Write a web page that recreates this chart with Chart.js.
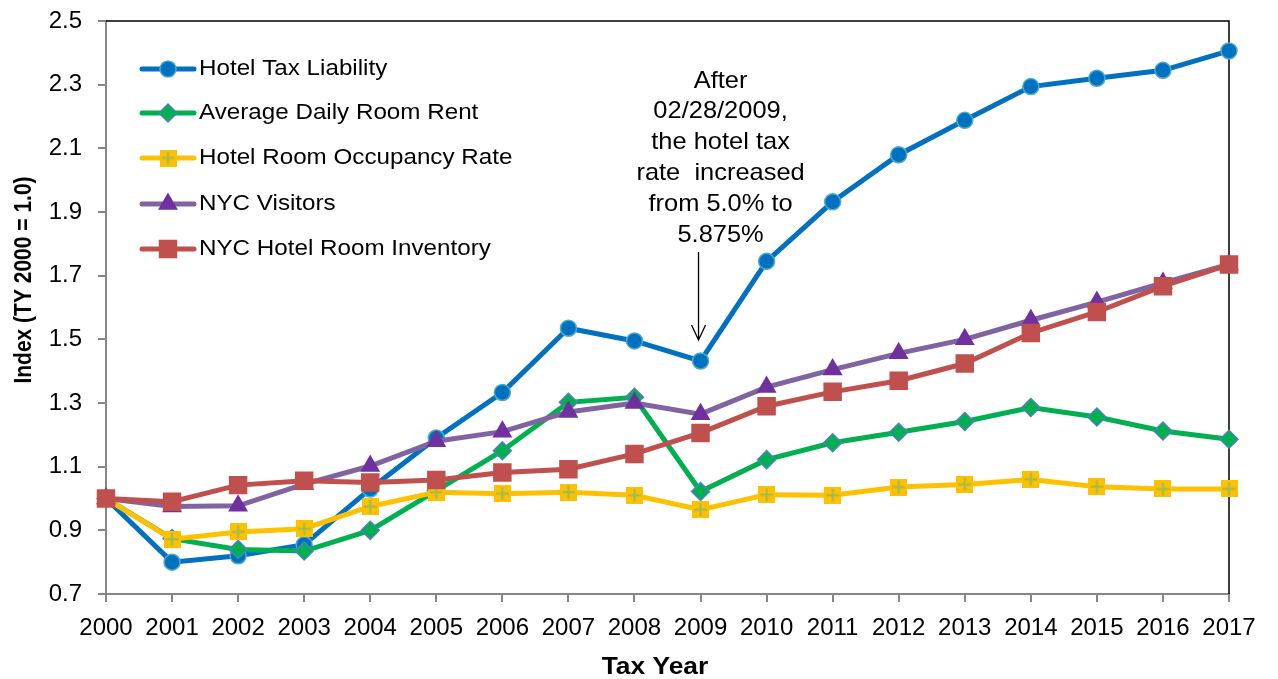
<!DOCTYPE html>
<html>
<head>
<meta charset="utf-8">
<script src="https://cdn.jsdelivr.net/npm/chart.js@4/dist/chart.umd.min.js"></script>
<style>
  html, body { margin: 0; padding: 0; background: #fff; }
  #wrap { width: 1278px; height: 679px; }
</style>
</head>
<body>
<div id="wrap"><canvas id="grafico" width="1278" height="679"></canvas></div>
<script>
// dados (indice, TY 2000 = 1.0)
var anos = ['2000','2001','2002','2003','2004','2005','2006','2007','2008','2009','2010','2011','2012','2013','2014','2015','2016','2017'];
var taxLiability = [1.00, 0.80, 0.82, 0.855, 1.03, 1.19, 1.333, 1.535, 1.495, 1.432, 1.745, 1.932, 2.08, 2.188, 2.294, 2.32, 2.345, 2.406];
var roomRent     = [1.00, 0.874, 0.84, 0.835, 0.90, 1.025, 1.15, 1.302, 1.318, 1.022, 1.122, 1.175, 1.208, 1.242, 1.286, 1.256, 1.212, 1.186];
var occupancy    = [1.00, 0.872, 0.895, 0.905, 0.975, 1.02, 1.015, 1.02, 1.01, 0.965, 1.012, 1.01, 1.036, 1.044, 1.06, 1.037, 1.03, 1.03];
var visitors     = [1.00, 0.975, 0.977, 1.045, 1.102, 1.18, 1.21, 1.272, 1.30, 1.265, 1.35, 1.405, 1.456, 1.50, 1.56, 1.617, 1.677, 1.735];
var inventory    = [1.00, 0.99, 1.042, 1.056, 1.05, 1.058, 1.082, 1.092, 1.14, 1.206, 1.29, 1.335, 1.37, 1.424, 1.52, 1.586, 1.667, 1.735];
var nomes = ['Hotel Tax Liability', 'Average Daily Room Rent', 'Hotel Room Occupancy Rate', 'NYC Visitors', 'NYC Hotel Room Inventory'];
var yTicks = [0.7, 0.9, 1.1, 1.3, 1.5, 1.7, 1.9, 2.1, 2.3, 2.5];
var notaLinhas = ['After', '02/28/2009,', 'the hotel tax', 'rate  increased', 'from 5.0% to', '5.875%'];

var fonte = '"Liberation Sans", Arial, sans-serif';
var cinza = '#868686';

// marcador amarelo: quadrado com cruz
function marcadorCruz(lado) {
  var c = document.createElement('canvas');
  c.width = lado; c.height = lado;
  var g = c.getContext('2d');
  g.fillStyle = '#FFC000';
  g.fillRect(0, 0, lado, lado);
  g.strokeStyle = '#9BBB59';
  g.lineWidth = 2;
  g.beginPath();
  g.moveTo(lado / 2, 2); g.lineTo(lado / 2, lado - 2);
  g.moveTo(2, lado / 2); g.lineTo(lado - 2, lado / 2);
  g.stroke();
  return c;
}
var cruz = marcadorCruz(17);

var estilos = [
  { cor: '#0070C0', fundo: '#0070C0', borda: '#4BACC6', forma: 'circle', raio: 8 },
  { cor: '#00B050', fundo: '#00B050', borda: '#4F81BD', forma: 'rectRot', raio: 9 },
  { cor: '#FFC000', fundo: '#FFC000', borda: '#FFC000', forma: cruz, raio: 9 },
  { cor: '#8064A2', fundo: '#7030A0', borda: '#7030A0', forma: 'triangle', raio: 10 },
  { cor: '#C0504D', fundo: '#C0504D', borda: '#C0504D', forma: 'rect', raio: 12 }
];
var series = [taxLiability, roomRent, occupancy, visitors, inventory];

var datasets = series.map(function (s, i) {
  var e = estilos[i];
  return {
    label: nomes[i],
    data: s,
    borderColor: e.cor,
    borderWidth: 5,
    pointStyle: e.forma,
    pointRadius: e.raio,
    pointHoverRadius: e.raio,
    pointBackgroundColor: e.fundo,
    pointBorderColor: e.borda,
    pointBorderWidth: 1.5,
    tension: 0,
    order: 4 - i
  };
});

// texto um pouco alargado na horizontal, como no original
function textoLargo(g, txt, x, y, fator, alinhar) {
  g.save();
  g.translate(x, y);
  g.scale(fator, 1);
  g.textAlign = alinhar;
  g.fillText(txt, 0, 0);
  g.restore();
}

// legenda desenhada a mao (linha + marcador)
var legendaPlugin = {
  id: 'legendaExcel',
  afterDraw: function (chart) {
    var g = chart.ctx;
    var ys = [69, 113, 158, 204, 249];
    g.save();
    for (var i = 0; i < nomes.length; i++) {
      var e = estilos[i], y = ys[i];
      g.strokeStyle = e.cor;
      g.lineWidth = 5;
      g.lineCap = 'round';
      g.beginPath(); g.moveTo(142, y); g.lineTo(194, y); g.stroke();
      g.fillStyle = e.fundo; g.strokeStyle = e.borda; g.lineWidth = 1.5;
      Chart.helpers.drawPoint(g, { pointStyle: e.forma, radius: e.raio, rotation: 0, borderWidth: 1.5 }, 168, y);
      g.fillStyle = '#000';
      g.font = '22px ' + fonte;
      g.textBaseline = 'middle';
      textoLargo(g, nomes[i], 199, y, 1.1, 'left');
    }
    g.restore();
  }
};

// moldura (topo e direita)
var molduraPlugin = {
  id: 'moldura',
  beforeDatasetsDraw: function (chart) {
    var g = chart.ctx, a = chart.chartArea;
    g.save();
    g.strokeStyle = '#000';
    g.lineWidth = 1.5;
    g.beginPath();
    g.moveTo(a.left, a.top); g.lineTo(a.right, a.top); g.lineTo(a.right, a.bottom);
    g.stroke();
    g.restore();
  }
};

// nota com seta + titulos dos eixos
var notaPlugin = {
  id: 'notaSeta',
  afterDraw: function (chart) {
    var g = chart.ctx;
    var xs = chart.scales.x, ys = chart.scales.y;
    g.save();
    var cx = (xs.getPixelForValue(9) + xs.getPixelForValue(10)) / 2 - 13;
    g.fillStyle = '#000';
    g.font = '24px ' + fonte;
    g.textBaseline = 'middle';
    for (var i = 0; i < notaLinhas.length; i++) {
      textoLargo(g, notaLinhas[i], cx, 81 + i * 30.8, 1.06, 'center');
    }
    var ax = xs.getPixelForValue(9) - 2;
    var y0 = ys.getPixelForValue(1.774), y1 = ys.getPixelForValue(1.498);
    g.strokeStyle = '#000';
    g.lineWidth = 1.3;
    g.beginPath();
    g.moveTo(ax, y0); g.lineTo(ax, y1);
    g.moveTo(ax - 7, y1 - 15); g.lineTo(ax, y1); g.lineTo(ax + 7, y1 - 15);
    g.stroke();

    // titulos
    g.font = 'bold 24px ' + fonte;
    textoLargo(g, 'Tax Year', 655, 667, 1.1, 'center');
    g.save();
    g.translate(25, 280);
    g.rotate(-Math.PI / 2);
    g.scale(1, 1.12);
    g.font = 'bold 21px ' + fonte;
    g.textAlign = 'center';
    g.fillText('Index (TY 2000 = 1.0)', 0, 0);
    g.restore();
    g.restore();
  }
};

var ctx = document.getElementById('grafico');
var grafico = new Chart(ctx, {
  type: 'line',
  data: { labels: anos, datasets: datasets },
  plugins: [molduraPlugin, legendaPlugin, notaPlugin],
  options: {
    responsive: false,
    animation: false,
    events: [],
    layout: { padding: { top: 21, right: 49, left: 0, bottom: 0 } },
    plugins: { legend: { display: false }, tooltip: { enabled: false } },
    scales: {
      x: {
        offset: false,
        afterFit: function (s) { s.height = 85; s.paddingLeft = 0; s.paddingRight = 0; },
        grid: { drawOnChartArea: false, drawTicks: true, tickLength: 8, color: cinza, lineWidth: 2 },
        border: { display: true, color: cinza, width: 2 },
        ticks: { color: '#000', font: { family: fonte, size: 24 }, padding: 12, maxRotation: 0, autoSkip: false }
      },
      y: {
        min: 0.7,
        max: 2.5,
        afterFit: function (s) { s.width = 106; s.paddingTop = 0; s.paddingBottom = 0; },
        afterBuildTicks: function (s) { s.ticks = yTicks.map(function (v) { return { value: v }; }); },
        grid: { drawOnChartArea: false, drawTicks: true, tickLength: 8, color: cinza, lineWidth: 2 },
        border: { display: true, color: cinza, width: 2 },
        ticks: { color: '#000', font: { family: fonte, size: 24 }, padding: 16, callback: function (v) { return Number(v).toFixed(1); } }
      }
    }
  }
});
</script>
</body>
</html>
